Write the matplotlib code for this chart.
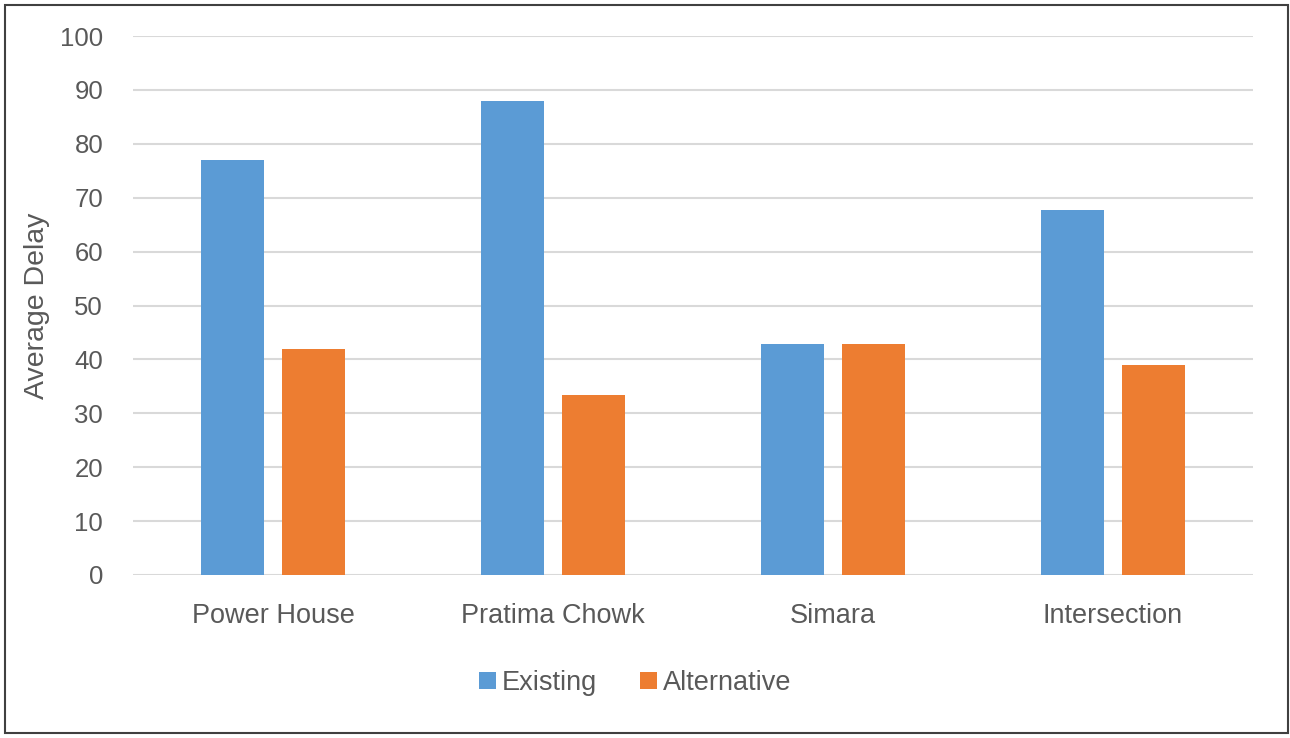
import matplotlib
matplotlib.use("Agg")
import matplotlib.pyplot as plt
import numpy as np
from matplotlib.patches import Rectangle

categories = ["Power House", "Pratima Chowk", "Simara", "Intersection"]
existing = [77.0, 87.9, 42.8, 67.8]
alternative = [41.9, 33.4, 42.8, 39.0]
series_names = ["Existing", "Alternative"]
yticks = [0, 10, 20, 30, 40, 50, 60, 70, 80, 90, 100]

plt.rcParams['font.family'] = ['Liberation Sans Narrow', 'Liberation Sans', 'DejaVu Sans']

W, H = 1290, 738
fig = plt.figure(figsize=(W / 100, H / 100), dpi=100)
ax = fig.add_axes([133 / W, 1 - 575 / H, (1253 - 133) / W, (575 - 36) / H])

x = np.arange(len(categories))
bw = 0.225
off = 0.145
ax.bar(x - off, existing, bw, color="#5B9BD5", label=series_names[0], zorder=3)
ax.bar(x + off, alternative, bw, color="#ED7D31", label=series_names[1], zorder=3)

ax.set_xlim(-0.5, len(categories) - 0.5)
ax.set_ylim(0, 100)
ax.set_yticks(yticks)
ax.yaxis.grid(True, color="#D9D9D9", linewidth=1.5, zorder=0)
ax.set_axisbelow(True)
for s in ax.spines.values():
    s.set_visible(False)
ax.tick_params(axis="y", length=0, colors="#595959", labelsize=18.5, pad=21.5)
ax.tick_params(axis="x", length=0, colors="#595959", labelsize=19.5, pad=20)
ax.set_xticks(x)
ax.set_xticklabels(categories)
ax.set_ylabel("Average Delay", fontsize=20.5, color="#595959")
ax.yaxis.set_label_coords((50 - 133) / 1120, (575 - 306) / 539)

leg = fig.legend(loc="center", bbox_to_anchor=(635 / W, 1 - 683 / H), ncol=2, frameon=False,
                 fontsize=19.5, handlelength=0.63, handleheight=0.63, handletextpad=0.2,
                 columnspacing=1.6, labelcolor="#595959")

fig.patches.append(Rectangle((5 / W, 1 - 733 / H), (1288 - 5) / W, (733 - 5) / H,
                             transform=fig.transFigure, fill=False, edgecolor="#404040",
                             linewidth=1.5))

fig.savefig("out.png", dpi=100, facecolor="white")
